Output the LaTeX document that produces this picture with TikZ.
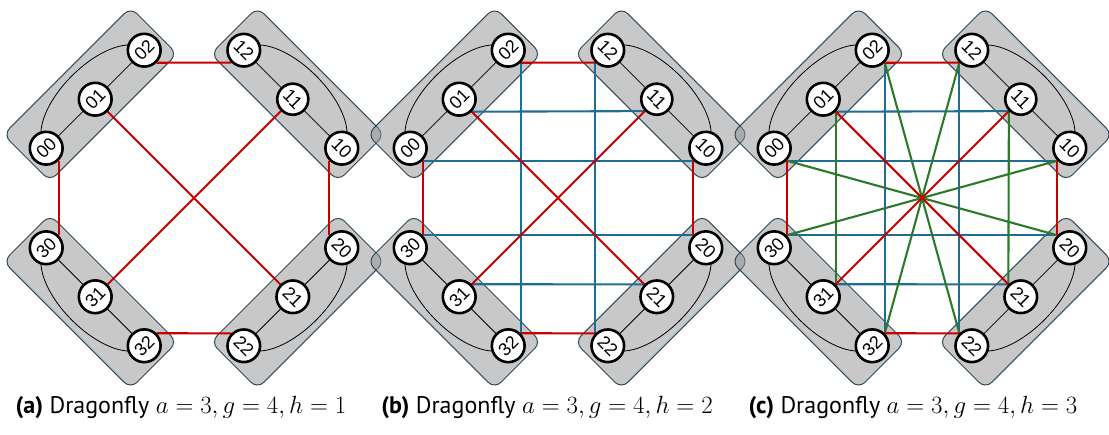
\documentclass[tikz,border=0pt]{standalone}
\usepackage{graphicx}
\usepackage{fontspec}
\usepackage{tikz}
\usetikzlibrary{positioning,calc,backgrounds}
\newfontfamily\numfont{Liberation Sans}
\newfontfamily\capfont{PT Sans}
\definecolor{ink}     {HTML}{000000}
\definecolor{grpline} {HTML}{2E4A5A}
\definecolor{grpgray} {HTML}{919191}
\definecolor{hred}    {HTML}{C80000}
\definecolor{hblue}   {HTML}{1F6C94}
\definecolor{hgreen}  {HTML}{2A7A2A}
\pgfdeclarelayer{groups}
\pgfdeclarelayer{links}
\pgfsetlayers{groups,links,main}
\tikzset{
  % --- nodes
  router/.style = {circle, draw=ink, line width=2.6pt, fill=white, minimum size=27pt,
                   inner sep=0pt, font=\numfont\fontsize{18}{18}\selectfont},
  capt/.style   = {font=\capfont\fontsize{24}{28}\selectfont, inner sep=0pt},
  % --- groups
  grp/.style    = {draw=grpline, line width=1pt, fill=grpgray, fill opacity=0.5,
                   rounded corners=9pt},
  ring/.style   = {draw=ink, line width=0.8pt},
  intra/.style  = {draw=ink, line width=0.8pt},
  % --- edges
  lred/.style   = {draw=hred, line width=2.1pt},
  lblue/.style  = {draw=hblue, line width=2.1pt},
  lgreen/.style = {draw=hgreen, line width=2.1pt},
}

\begin{document}
\begin{tikzpicture}[x=1pt,y=1pt]
  \useasboundingbox (0,0) rectangle (1109,435);

  \foreach \p/\cx/\capx/\h in {a/194/181/1, b/558/547/2, c/922/913/3}
  {
    % groups: outward angle / line angle / side / label turn
    \foreach \g/\ang/\lin/\flip/\rot in {0/135/45/1/45, 1/45/135/-1/-45, 2/-45/225/1/-45, 3/-135/315/-1/45}
    {
      \begin{scope}[shift={(\cx,237)}, shift={(\ang:139.7)}, rotate=\lin, yscale=\flip]
        \begin{pgfonlayer}{groups}
          \draw[grp] (-90,-26) rectangle (90,40);
          \draw[ring] (-69.3,0) arc[start angle=180, end angle=0, x radius=69.3, y radius=33];
          \draw[intra] (-69.3,0) -- (69.3,0);
        \end{pgfonlayer}
        \foreach \r in {0,1,2}
          \node[router] (\p\g\r) at ({(\r-1)*69.3},0) {\rotatebox{\rot}{\g\r}};
      \end{scope}
    }

    % global links
    \begin{pgfonlayer}{links}
      \ifnum\h>1
        \foreach \s/\t in {00.south east/10.south west, 01.south east/11.south west,
                           30.north east/20.north west, 31.north east/21.north west,
                           02.south east/32.north east, 12.south west/22.north west}
          \draw[lblue] (\p\s) -- (\p\t);
      \fi
      \ifnum\h>2
        \foreach \s/\t in {00.south east/20.north west, 02.south east/22.north west,
                           12.south west/32.north east, 10.south west/30.north east,
                           01.south east/31.north east, 11.south west/21.north west}
          \draw[lgreen] (\p\s) -- (\p\t);
      \fi
      \foreach \s/\t in {00.south east/30.north east, 02.south east/12.south west,
                         10.south west/20.north west, 32.north east/22.north west,
                         01.south east/21.north west, 11.south west/31.north east}
        \draw[lred] (\p\s) -- (\p\t);
    \end{pgfonlayer}

    \node[capt] (cap\p) at (\capx,27) {\textbf{(\p)} Dragonfly $a=3, g=4, h=\h$};
  }
\end{tikzpicture}
\end{document}
